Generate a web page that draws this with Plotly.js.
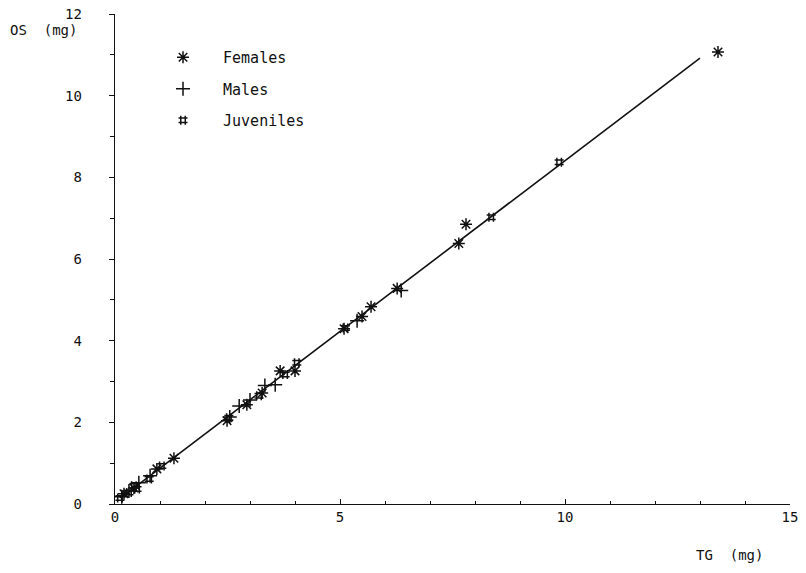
<!DOCTYPE html>
<html>
<head>
<meta charset="utf-8">
<script src="https://cdn.plot.ly/plotly-3.0.1.min.js"></script>
<style>
  html, body { margin: 0; padding: 0; background: #fff; }
  #chart { width: 806px; height: 573px; }
</style>
</head>
<body>
<div id="chart"></div>
<script>
// Otolith weight (OS) against total gonad weight (TG), in mg
var femalesTG = [13.4, 7.8, 7.64, 6.27, 5.69, 5.49, 5.09, 4.0, 3.67, 3.27, 2.93, 2.49, 1.31, 0.93, 0.42, 0.2];
var femalesOS = [11.07, 6.85, 6.38, 5.28, 4.83, 4.59, 4.29, 3.26, 3.26, 2.72, 2.43, 2.04, 1.12, 0.86, 0.39, 0.25];

var malesTG = [6.36, 5.38, 3.56, 3.33, 3.0, 2.76, 2.55, 0.78, 0.53, 0.31, 0.15];
var malesOS = [5.23, 4.49, 2.92, 2.9, 2.55, 2.4, 2.13, 0.69, 0.52, 0.32, 0.18];

var juvenilesTG = [9.87, 8.36, 5.12, 4.04, 3.78, 3.2, 2.53, 1.04, 0.76, 0.49, 0.42, 0.31, 0.11];
var juvenilesOS = [8.37, 7.02, 4.31, 3.46, 3.17, 2.65, 2.11, 0.93, 0.61, 0.37, 0.45, 0.28, 0.15];

// end points of the fitted regression line
var fitTG = [0.13, 13.0];
var fitOS = [0.15, 10.92];

var xTickVals = [0, 5, 10, 15];
var yTickVals = [0, 2, 4, 6, 8, 10, 12];

var ink = '#111';
var mono = '"DejaVu Sans Mono", "Liberation Mono", monospace';

var traces = [
  {
    x: fitTG, y: fitOS, mode: 'lines', showlegend: false,
    line: { color: ink, width: 1.6 }, hoverinfo: 'skip'
  },
  {
    name: 'Females', x: femalesTG, y: femalesOS, mode: 'markers',
    legendgroup: 'f',
    marker: { symbol: 'asterisk-open', size: 10, color: ink, line: { color: ink, width: 1.5 } }
  },
  {
    name: 'Males', x: malesTG, y: malesOS, mode: 'markers',
    legendgroup: 'm',
    marker: { symbol: 'cross-thin-open', size: 10, color: ink, line: { color: ink, width: 1.5 } }
  },
  {
    name: 'Juveniles', x: juvenilesTG, y: juvenilesOS, mode: 'markers',
    legendgroup: 'j',
    marker: { symbol: 'hash-open', size: 9, color: ink, line: { color: ink, width: 1.5 } }
  }
];

var layout = {
  width: 806, height: 573,
  margin: { l: 115, r: 16, t: 14, b: 69 },
  paper_bgcolor: '#fff', plot_bgcolor: '#fff',
  font: { family: mono, size: 14, color: ink },
  showlegend: true,
  legend: {
    x: 0.0415, xanchor: 'left', y: 0.945, yanchor: 'top',
    itemwidth: 70, tracegroupgap: 9, traceorder: 'grouped',
    font: { family: mono, size: 15, color: ink },
    bgcolor: 'rgba(0,0,0,0)'
  },
  xaxis: {
    range: [0, 15], showgrid: false, zeroline: false,
    showline: true, linecolor: ink, linewidth: 1.3,
    tickmode: 'array', tickvals: xTickVals, ticktext: xTickVals.map(String),
    ticks: 'inside', ticklen: 5, tickcolor: ink,
    minor: { dtick: 1, ticks: 'inside', ticklen: 3, tickcolor: ink },
    ticklabelstandoff: 0,
    tickfont: { family: mono, size: 14, color: ink }
  },
  yaxis: {
    range: [0, 12], showgrid: false, zeroline: false,
    showline: true, linecolor: ink, linewidth: 1.3,
    tickmode: 'array', tickvals: yTickVals, ticktext: yTickVals.map(String),
    ticks: 'outside', ticklen: 5, tickcolor: ink,
    minor: { dtick: 1, ticks: 'outside', ticklen: 4, tickcolor: ink },
    ticklabelstandoff: 24,
    tickfont: { family: mono, size: 14, color: ink }
  },
  annotations: [
    { text: 'OS  (mg)', xref: 'paper', yref: 'paper', x: -0.159, y: 0.968,
      xanchor: 'left', yanchor: 'middle', showarrow: false,
      font: { family: mono, size: 14, color: ink } },
    { text: 'TG  (mg)', xref: 'paper', yref: 'paper', x: 0.911, y: -0.105,
      xanchor: 'center', yanchor: 'middle', showarrow: false,
      font: { family: mono, size: 14, color: ink } }
  ]
};

Plotly.newPlot('chart', traces, layout, { displayModeBar: false, staticPlot: true });
</script>
</body>
</html>
